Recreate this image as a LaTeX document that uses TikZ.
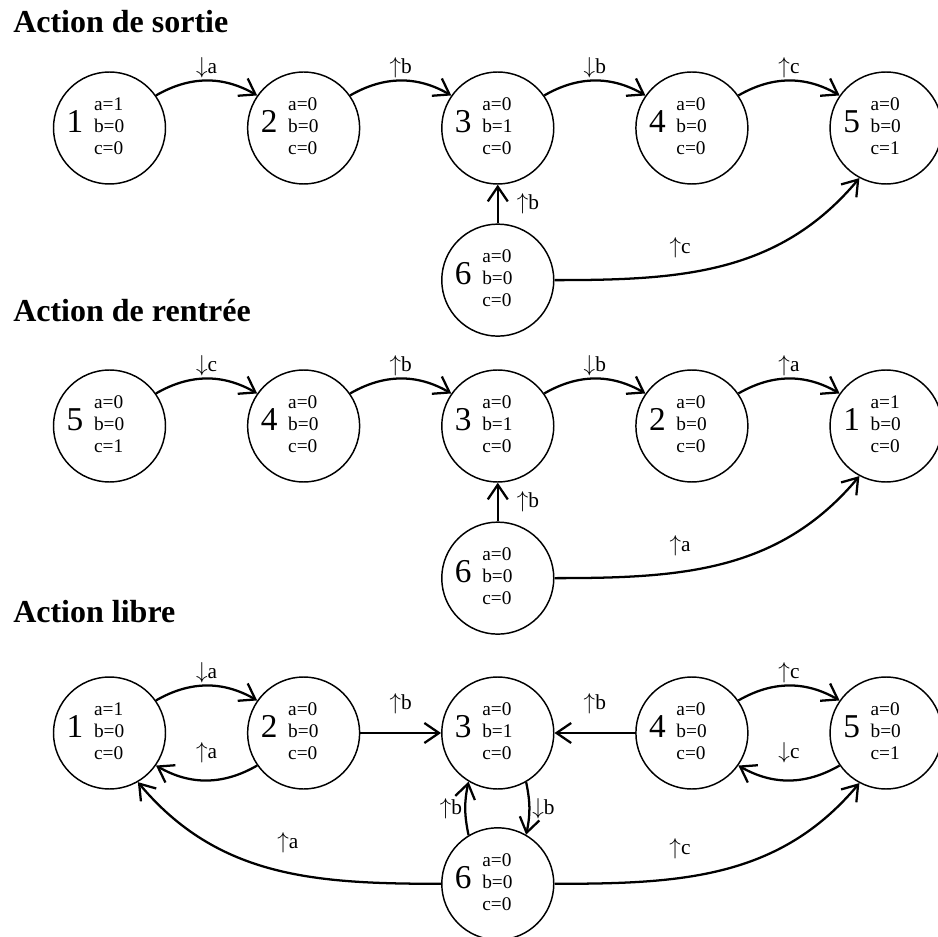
\documentclass[tikz,border=0pt]{standalone}
\usepackage{fontspec}
\setmainfont{Liberation Serif}
\usetikzlibrary{arrows.meta,positioning}

% contenu d'un etat : numero + valeurs de a, b, c
\newcommand{\etiq}[4]{{\fontsize{25}{25}\selectfont #1}\hspace{8pt}%
  \begin{tabular}{@{}l@{}}a=#2\\b=#3\\c=#4\end{tabular}\kern21pt}
\newcommand{\mont}[1]{$\uparrow$#1}
\newcommand{\desc}[1]{$\downarrow$#1}

\begin{document}
\begin{tikzpicture}[
  x=0.75pt, y=0.75pt,
  >={Straight Barb[length=11pt,width=15pt]},
  node distance=29pt and 60.5pt,
  etat/.style={circle, draw, line width=1.1pt, minimum size=84pt, inner sep=0pt,
               font=\fontsize{14.5}{16.5}\selectfont},
  titre/.style={anchor=base west, inner sep=0pt, font=\fontsize{24}{28}\selectfont\bfseries},
  lbl/.style={font=\fontsize{16}{19}\selectfont, inner sep=1.5pt},
  fl/.style={->, line width=1.7pt}
]
  \useasboundingbox (0,0) rectangle (938,-937);

  % Action de sortie
  \node[titre] (t1) at (13,-33) {Action de sortie};
  \node[etat] (s1) at (109.5,-128) {\etiq{1}{1}{0}{0}};
  \node[etat, right=of s1] (s2) {\etiq{2}{0}{0}{0}};
  \node[etat, right=of s2] (s3) {\etiq{3}{0}{1}{0}};
  \node[etat, right=of s3] (s4) {\etiq{4}{0}{0}{0}};
  \node[etat, right=of s4] (s5) {\etiq{5}{0}{0}{1}};
  \node[etat, below=of s3] (s6) {\etiq{6}{0}{0}{0}};
  \draw[fl] (s1.35) to[out=30,in=150] node[lbl,above] (ls12) {\desc{a}} (s2.145);
  \draw[fl] (s2.35) to[out=30,in=150] node[lbl,above] (ls23) {\mont{b}} (s3.145);
  \draw[fl] (s3.35) to[out=30,in=150] node[lbl,above] (ls34) {\desc{b}} (s4.145);
  \draw[fl] (s4.35) to[out=30,in=150] node[lbl,above] (ls45) {\mont{c}} (s5.145);
  \draw[fl] (s6) -- node[lbl,right=12pt] (ls63) {\mont{b}} (s3);
  \draw[fl] (s6.east) to[out=0,in=-130] node[lbl,above=10pt,pos=.36] (ls65) {\mont{c}} (s5.-118);

  % Action de rentree
  \node[titre] (t2) at (13,-322) {Action de rentrée};
  \node[etat] (r5) at (109.5,-426) {\etiq{5}{0}{0}{1}};
  \node[etat, right=of r5] (r4) {\etiq{4}{0}{0}{0}};
  \node[etat, right=of r4] (r3) {\etiq{3}{0}{1}{0}};
  \node[etat, right=of r3] (r2) {\etiq{2}{0}{0}{0}};
  \node[etat, right=of r2] (r1) {\etiq{1}{1}{0}{0}};
  \node[etat, below=of r3] (r6) {\etiq{6}{0}{0}{0}};
  \draw[fl] (r5.35) to[out=30,in=150] node[lbl,above] (lr54) {\desc{c}} (r4.145);
  \draw[fl] (r4.35) to[out=30,in=150] node[lbl,above] (lr43) {\mont{b}} (r3.145);
  \draw[fl] (r3.35) to[out=30,in=150] node[lbl,above] (lr32) {\desc{b}} (r2.145);
  \draw[fl] (r2.35) to[out=30,in=150] node[lbl,above] (lr21) {\mont{a}} (r1.145);
  \draw[fl] (r6) -- node[lbl,right=12pt] (lr63) {\mont{b}} (r3);
  \draw[fl] (r6.east) to[out=0,in=-130] node[lbl,above=10pt,pos=.36] (lr61) {\mont{a}} (r1.-118);

  % Action libre
  \node[titre] (t3) at (13,-622) {Action libre};
  \node[etat] (l1) at (109.5,-733) {\etiq{1}{1}{0}{0}};
  \node[etat, right=of l1] (l2) {\etiq{2}{0}{0}{0}};
  \node[etat, right=of l2] (l3) {\etiq{3}{0}{1}{0}};
  \node[etat, right=of l3] (l4) {\etiq{4}{0}{0}{0}};
  \node[etat, right=of l4] (l5) {\etiq{5}{0}{0}{1}};
  \node[etat, below=28pt of l3] (l6) {\etiq{6}{0}{0}{0}};
  \draw[fl] (l1.35) to[out=30,in=150] node[lbl,above] (ll12) {\desc{a}} (l2.145);
  \draw[fl] (l2.-145) to[out=-150,in=-30] node[lbl,above=11pt] (ll21) {\mont{a}} (l1.-35);
  \draw[fl] (l2) -- node[lbl,above=12pt] (ll23) {\mont{b}} (l3);
  \draw[fl] (l4) -- node[lbl,above=12pt] (ll43) {\mont{b}} (l3);
  \draw[fl] (l4.35) to[out=30,in=150] node[lbl,above] (ll45) {\mont{c}} (l5.145);
  \draw[fl] (l5.-145) to[out=-150,in=-30] node[lbl,above=11pt] (ll54) {\desc{c}} (l4.-35);
  \draw[fl] (l6.121) to[bend left=12] node[lbl,left] (ll63) {\mont{b}} (l3.-121);
  \draw[fl] (l3.-60) to[bend left=12] node[lbl,right] (ll36) {\desc{b}} (l6.60);
  \draw[fl] (l6.west) to[out=180,in=-50] node[lbl,above=12pt,pos=.45] (ll61) {\mont{a}} (l1.-60);
  \draw[fl] (l6.east) to[out=0,in=-130] node[lbl,above=12pt,pos=.36] (ll65) {\mont{c}} (l5.-118);
\end{tikzpicture}
\end{document}
